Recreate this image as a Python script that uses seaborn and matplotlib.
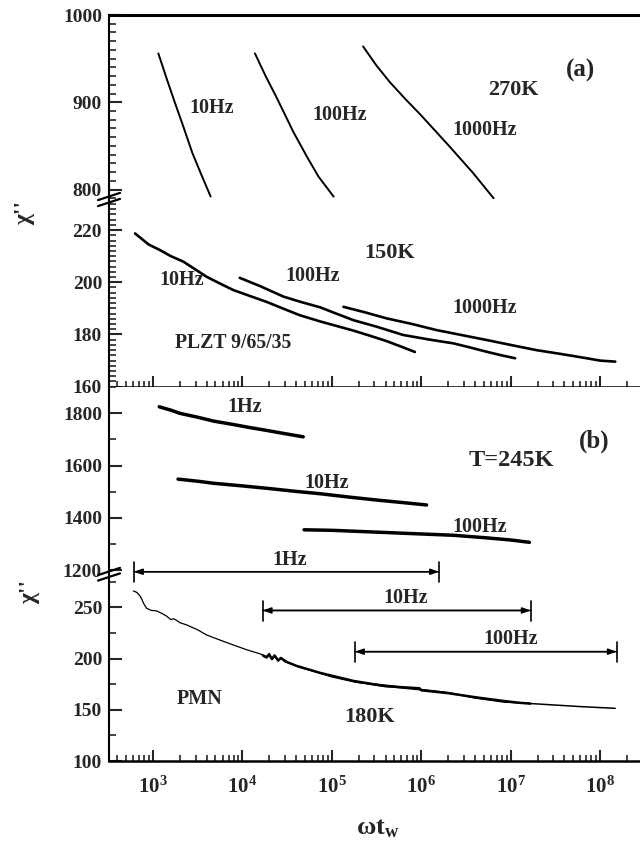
import numpy as np
import matplotlib
matplotlib.use("Agg")
import matplotlib.pyplot as plt
import seaborn as sns
from matplotlib.lines import Line2D
from matplotlib.ticker import MultipleLocator, LogLocator, FuncFormatter, NullFormatter

# ---------------------------------------------------------------------------
# Data: x values are log10(omega * t_w), y values are chi''
# ---------------------------------------------------------------------------
# (a) PLZT 9/65/35, T = 270 K
plzt270_10hz_logw = [3.06, 3.15, 3.24, 3.34, 3.44, 3.545, 3.645]
plzt270_10hz_chi = [956, 928, 901, 872, 842, 816, 792]
plzt270_100hz_logw = [4.14, 4.26, 4.38, 4.48, 4.57, 4.72, 4.85, 5.02]
plzt270_100hz_chi = [956, 930, 906, 885, 866, 838, 815, 792]
plzt270_1000hz_logw = [5.35, 5.50, 5.65, 5.82, 5.99, 6.16, 6.32, 6.58, 6.81]
plzt270_1000hz_chi = [964, 942, 923, 904, 886, 867, 849, 819, 790]

# (a) PLZT 9/65/35, T = 150 K
plzt150_10hz_logw = [2.80, 2.95, 3.08, 3.20, 3.34, 3.47, 3.60, 3.75, 3.90, 4.08,
                     4.27, 4.45, 4.64, 4.87, 5.05, 5.24, 5.42, 5.61, 5.78, 5.93]
plzt150_10hz_chi = [218.7, 214.5, 212.3, 210.0, 207.9, 205.0, 202.1, 199.5, 197.0, 194.8,
                    192.5, 190.0, 187.4, 185.0, 183.3, 181.5, 179.6, 177.5, 175.3, 173.3]
plzt150_100hz_logw = [3.97, 4.20, 4.46, 4.65, 4.87, 5.05, 5.24, 5.50, 5.80, 6.10,
                      6.36, 6.55, 6.73, 6.90, 7.05]
plzt150_100hz_chi = [201.7, 198.5, 194.5, 192.5, 190.4, 188.0, 185.5, 183.0, 179.8, 178.0,
                     176.6, 175.0, 173.4, 172.0, 170.9]
plzt150_1000hz_logw = [5.13, 5.37, 5.61, 5.90, 6.17, 6.45, 6.73, 7.00, 7.29, 7.57,
                       7.85, 8.00, 8.17]
plzt150_1000hz_chi = [190.6, 188.5, 186.2, 184.0, 181.7, 179.8, 177.9, 176.0, 174.0, 172.5,
                      170.9, 170.0, 169.6]

# (b) PMN, T = 245 K
pmn245_1hz_logw = [3.07, 3.20, 3.30, 3.50, 3.68, 3.90, 4.09, 4.28, 4.46, 4.68]
pmn245_1hz_chi = [1825, 1812, 1800, 1785, 1770, 1757, 1745, 1734, 1723, 1710]
pmn245_10hz_logw = [3.28, 3.50, 3.68, 4.00, 4.27, 4.60, 4.87, 5.20, 5.50, 5.80, 6.06]
pmn245_10hz_chi = [1548, 1540, 1532, 1522, 1513, 1501, 1492, 1479, 1468, 1458, 1449]
pmn245_100hz_logw = [4.69, 5.00, 5.50, 6.00, 6.36, 6.70, 7.00, 7.21]
pmn245_100hz_chi = [1354, 1352, 1345, 1338, 1333, 1324, 1315, 1306]

# (b) PMN, T = 180 K (three overlapping frequency runs)
pmn180_1hz_logw = [2.78, 2.82, 2.86, 2.90, 2.93, 2.98, 3.04, 3.10, 3.15, 3.20,
                   3.23, 3.26, 3.30, 3.38, 3.50, 3.60, 3.75, 3.90, 4.05, 4.20,
                   4.27, 4.30, 4.33, 4.36, 4.40, 4.43, 4.47, 4.55, 4.64, 4.87,
                   5.00, 5.24, 5.50, 5.80, 6.00, 6.20]
pmn180_1hz_chi = [266.0, 264.5, 260.5, 253.0, 249.0, 247.0, 246.5, 244.0, 241.5, 238.0,
                  238.8, 237.5, 235.0, 232.7, 228.0, 223.0, 218.0, 213.2, 208.5, 204.5,
                  202.0, 205.0, 199.0, 202.5, 198.5, 201.0, 197.0, 195.0, 191.4, 185.6,
                  182.0, 177.4, 173.8, 171.0, 169.3, 167.3]
pmn180_10hz_logw = [4.23, 4.27, 4.30, 4.33, 4.36, 4.40, 4.43, 4.50, 4.60, 4.87,
                    5.24, 5.60, 5.98, 6.00, 6.30, 6.60, 6.92, 7.10, 7.22]
pmn180_10hz_chi = [203.0, 201.0, 204.0, 199.5, 203.0, 198.0, 200.5, 196.5, 193.0, 186.0,
                   178.2, 173.0, 171.0, 169.0, 166.2, 162.3, 158.6, 156.8, 156.0]
pmn180_100hz_logw = [5.26, 5.60, 6.00, 6.30, 6.60, 6.92, 7.20, 7.48, 7.80, 8.17]
pmn180_100hz_chi = [177.0, 174.0, 169.8, 166.8, 161.5, 157.6, 156.2, 154.7, 153.0, 151.4]

# Measurement ranges of the three runs at 180 K: (label, log10 start, log10 end, chi'' level)
range_labels = ["1Hz", "10Hz", "100Hz"]
range_start_logw = [2.787, 4.227, 5.259]
range_end_logw = [6.199, 7.225, 8.187]
range_level_chi = [284.7, 246.9, 206.7]

# ---------------------------------------------------------------------------
sns.set_style("ticks")
plt.rcParams.update({
    "font.family": ["Liberation Serif", "DejaVu Serif"],
    "font.weight": "bold",
    "mathtext.fontset": "custom",
    "mathtext.rm": "Liberation Serif:bold",
    "mathtext.bf": "Liberation Serif:bold",
    "mathtext.it": "Liberation Serif:bold:italic",
    "axes.linewidth": 1.5,
    "axes.edgecolor": "black",
})

FIG_W, FIG_H = 640, 850
fig = plt.figure(figsize=(FIG_W / 100, FIG_H / 100), dpi=100)

LEFT = 109 / FIG_W
WIDTH = (FIG_W - 109) / FIG_W


def panel_rect(top_px, bottom_px):
    return [LEFT, 1 - bottom_px / FIG_H, WIDTH, (bottom_px - top_px) / FIG_H]


ax1 = fig.add_axes(panel_rect(15, 199))
ax2 = fig.add_axes(panel_rect(199, 386.7), sharex=ax1)
ax3 = fig.add_axes(panel_rect(386.7, 574), sharex=ax1)
ax4 = fig.add_axes(panel_rect(574, 761), sharex=ax1)
axes = [ax1, ax2, ax3, ax4]


def curve(ax, logw, chi, lw):
    sns.lineplot(x=np.power(10.0, logw), y=chi, ax=ax, color="black", lw=lw,
                 estimator=None, sort=False)


curve(ax1, plzt270_10hz_logw, plzt270_10hz_chi, 1.4)
curve(ax1, plzt270_100hz_logw, plzt270_100hz_chi, 1.4)
curve(ax1, plzt270_1000hz_logw, plzt270_1000hz_chi, 1.4)

curve(ax2, plzt150_10hz_logw, plzt150_10hz_chi, 1.9)
curve(ax2, plzt150_100hz_logw, plzt150_100hz_chi, 1.9)
curve(ax2, plzt150_1000hz_logw, plzt150_1000hz_chi, 1.9)

curve(ax3, pmn245_1hz_logw, pmn245_1hz_chi, 2.5)
curve(ax3, pmn245_10hz_logw, pmn245_10hz_chi, 2.5)
curve(ax3, pmn245_100hz_logw, pmn245_100hz_chi, 2.5)

curve(ax4, pmn180_1hz_logw, pmn180_1hz_chi, 0.9)
curve(ax4, pmn180_10hz_logw, pmn180_10hz_chi, 1.8)
curve(ax4, pmn180_100hz_logw, pmn180_100hz_chi, 1.1)

# ---------------------------------------------------------------------------
# Axes, spines and ticks
ax1.set_xscale("log")
ax1.set_xlim(10 ** 2.508, 10 ** 8.447)
ax1.xaxis.set_major_locator(LogLocator(base=10, numticks=15))
ax1.xaxis.set_minor_locator(LogLocator(base=10, subs=range(2, 10), numticks=15))
ax1.xaxis.set_major_formatter(FuncFormatter(lambda v, p: r"$\mathbf{10^{%d}}$" % round(np.log10(v))))
ax1.xaxis.set_minor_formatter(NullFormatter())

ylims = [(789.2, 1000), (160, 231.9), (1184.7, 1901.9), (100, 282.5)]
ymajor = [100, 20, 200, 50]
yminor = [10, 2, 100, 25]
for ax, lim, mj, mn in zip(axes, ylims, ymajor, yminor):
    ax.set_ylim(*lim)
    ax.yaxis.set_major_locator(MultipleLocator(mj))
    ax.yaxis.set_minor_locator(MultipleLocator(mn))
    ax.set_xlabel("")
    ax.set_ylabel("")
    ax.set_facecolor("white")
    ax.spines["right"].set_visible(False)
    ax.tick_params(axis="y", which="both", direction="in", left=True, right=False,
                   labelsize=14, pad=5)
    ax.tick_params(axis="y", which="major", length=9, width=1.5)
    ax.tick_params(axis="y", which="minor", length=5, width=1.2)
    ax.tick_params(axis="x", which="both", direction="in", top=False)
    ax.tick_params(axis="x", which="major", length=8, width=1.5)
    ax.tick_params(axis="x", which="minor", length=4.5, width=1.2)

ax1.spines["bottom"].set_visible(False)
ax1.spines["top"].set_linewidth(2.2)
ax1.tick_params(axis="x", which="both", bottom=False, labelbottom=False)
ax2.spines["top"].set_visible(False)
ax2.tick_params(axis="x", which="both", bottom=True, labelbottom=False)
ax3.spines["top"].set_visible(False)
ax3.spines["bottom"].set_visible(False)
ax3.tick_params(axis="x", which="both", bottom=False, labelbottom=False)
ax4.spines["top"].set_visible(False)
ax4.tick_params(axis="x", which="both", bottom=True, labelbottom=True, labelsize=15, pad=11)

for ax in (ax2, ax4):
    ax.spines["bottom"].set_linewidth(1.8)

# Axis-break marks on the left spine
for y_px in (196.5, 202.5, 571.5, 577.0):
    fig.add_artist(Line2D([(109 - 11) / FIG_W, (109 + 11) / FIG_W],
                          [1 - (y_px + 3.6) / FIG_H, 1 - (y_px - 3.6) / FIG_H],
                          color="black", lw=1.6))

# ---------------------------------------------------------------------------
# Annotations
def label(ax, logw, chi, text, size):
    ax.text(10 ** logw, chi, text, fontsize=size, fontweight="bold",
            ha="center", va="center", clip_on=False)


label(ax1, 3.657, 893, "10Hz", 14.5)
label(ax1, 5.092, 885.5, "100Hz", 14.5)
label(ax1, 6.714, 868, "1000Hz", 14.5)
label(ax1, 7.03, 914, "270K", 16)
label(ax1, 7.776, 937, "(a)", 18)

label(ax2, 3.321, 200.9, "10Hz", 14.5)
label(ax2, 4.79, 202.4, "100Hz", 14.5)
label(ax2, 5.651, 211.1, "150K", 16)
label(ax2, 6.714, 190.0, "1000Hz", 14.5)
label(ax2, 3.898, 176.6, "PLZT 9/65/35", 14.2)

label(ax3, 4.029, 1825, "1Hz", 14.5)
label(ax3, 4.946, 1533, "10Hz", 14.5)
label(ax3, 6.658, 1366, "100Hz", 14.5)
label(ax3, 7.012, 1621, "T=245K", 17.5)
label(ax3, 7.933, 1691, "(b)", 18)

label(ax4, 3.526, 160.2, "PMN", 14.5)
label(ax4, 5.427, 143.2, "180K", 16)

# Range bars for the three runs at 180 K
range_label_dx = [4.525 - 4.493, 5.83 - 5.726, 7.0 - 6.723]
range_label_dy = [11.3, 11.9, 12.1]
for name, x0, x1, yv, dx, dy in zip(range_labels, range_start_logw, range_end_logw,
                                    range_level_chi, range_label_dx, range_label_dy):
    ax4.annotate("", xy=(10 ** x1, yv), xytext=(10 ** x0, yv),
                 arrowprops=dict(arrowstyle="-|>,head_length=0.5,head_width=0.18",
                                 lw=1.1, color="black", shrinkA=0, shrinkB=0),
                 annotation_clip=False)
    ax4.annotate("", xy=(10 ** x0, yv), xytext=(10 ** x1, yv),
                 arrowprops=dict(arrowstyle="-|>,head_length=0.5,head_width=0.18",
                                 lw=1.1, color="black", shrinkA=0, shrinkB=0),
                 annotation_clip=False)
    for xe in (x0, x1):
        ax4.plot([10 ** xe, 10 ** xe], [yv - 10, yv + 9.5], color="black", lw=1.2,
                 clip_on=False)
    label(ax4, (x0 + x1) / 2 + dx, yv + dy, name, 14.5)

# Axis titles
fig.text(25 / FIG_W, 1 - 213 / FIG_H, "χ''", rotation=90, fontsize=17,
         fontweight="bold", ha="center", va="center")
fig.text(30 / FIG_W, 1 - 592 / FIG_H, "χ''", rotation=90, fontsize=17,
         fontweight="bold", ha="center", va="center")
fig.text(378 / FIG_W, 1 - 828 / FIG_H, r"$\mathbf{\omega t_w}$", fontsize=19,
         ha="center", va="center")

fig.savefig("out.png", dpi=100, facecolor="white")
